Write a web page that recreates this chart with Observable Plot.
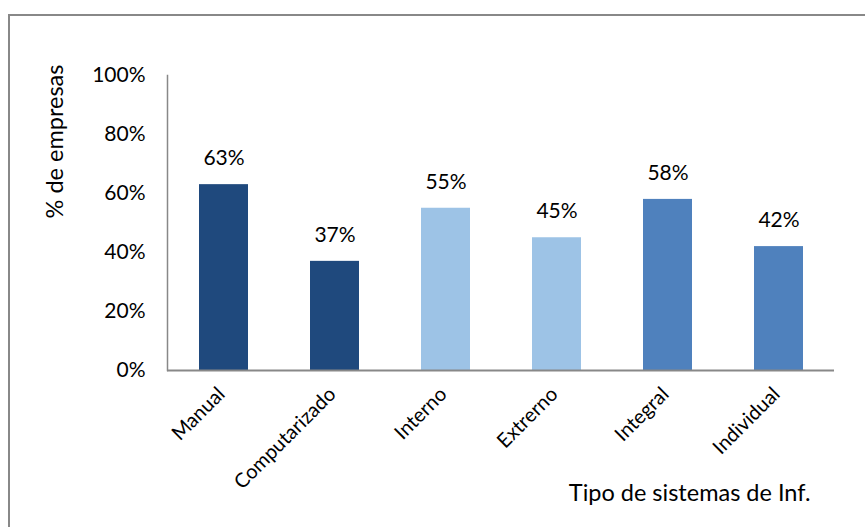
<!DOCTYPE html>
<html>
<head>
<meta charset="utf-8">
<script src="https://cdn.jsdelivr.net/npm/d3@7"></script>
<script src="https://cdn.jsdelivr.net/npm/@observablehq/plot@0.6"></script>
<style>
  html, body { margin: 0; padding: 0; background: #fff; }
  #wrap { position: relative; width: 865px; height: 527px; overflow: hidden; }
  #frame { position: absolute; left: 8px; top: 14px; right: -2px; bottom: -2px;
           border-top: 2px solid #888; border-left: 2px solid #888; pointer-events: none; }
  svg { font-family: Lato, "Open Sans", sans-serif; }
</style>
</head>
<body>
<div id="wrap"><div id="frame"></div></div>
<script>
const categories = ["Manual", "Computarizado", "Interno", "Extrerno", "Integral", "Individual"];
const values = [0.63, 0.37, 0.55, 0.45, 0.58, 0.42];
const groups = ["A", "A", "B", "B", "C", "C"];
const groupColors = {A: "#1F497D", B: "#9DC3E6", C: "#4F81BD"};
const yTicks = [0, 0.2, 0.4, 0.6, 0.8, 1.0];
const yTitle = "% de empresas";
const xTitle = "Tipo de sistemas de Inf.";

const data = categories.map((c, i) => ({cat: c, value: values[i], group: groups[i]}));
const pct = d3.format(".0%");

const chart = Plot.plot({
  width: 865,
  height: 527,
  marginLeft: 167,
  marginRight: 31,
  marginTop: 75,
  marginBottom: 157,
  style: {fontFamily: "Lato, 'Open Sans', sans-serif", fontSize: "20px", color: "#000", background: "transparent"},
  x: {domain: categories, paddingInner: 0.56, paddingOuter: 0.28, axis: null},
  y: {domain: [0, 1], axis: null},
  marks: [
    Plot.barY(data, {x: "cat", y: "value", fill: d => groupColors[d.group]}),
    Plot.frame({anchor: "left", stroke: "#888", strokeWidth: 1.5}),
    Plot.ruleY([0], {stroke: "#888", strokeWidth: 2}),
    Plot.axisY({ticks: yTicks, tickFormat: pct, tickSize: 0, tickPadding: 22, label: null, fontSize: 21}),
    Plot.text(data, {x: "cat", y: "value", text: d => pct(d.value), dy: -26, fontSize: 21, fill: "#000"}),
    Plot.text(categories, {x: d => d, frameAnchor: "bottom", rotate: -45, textAnchor: "end", dx: 2, dy: 25, fontSize: 20, fill: "#000"}),
    Plot.text([yTitle], {frameAnchor: "top-left", rotate: -90, textAnchor: "middle", dx: -121, dy: 66, fontSize: 23.5, fill: "#000"}),
    Plot.text([xTitle], {frameAnchor: "bottom-right", textAnchor: "end", dx: -24, dy: 130, fontSize: 23.5, fill: "#000"})
  ]
});
chart.style.position = "absolute";
chart.style.left = "0";
chart.style.top = "0";
document.getElementById("wrap").appendChild(chart);
</script>
</body>
</html>
